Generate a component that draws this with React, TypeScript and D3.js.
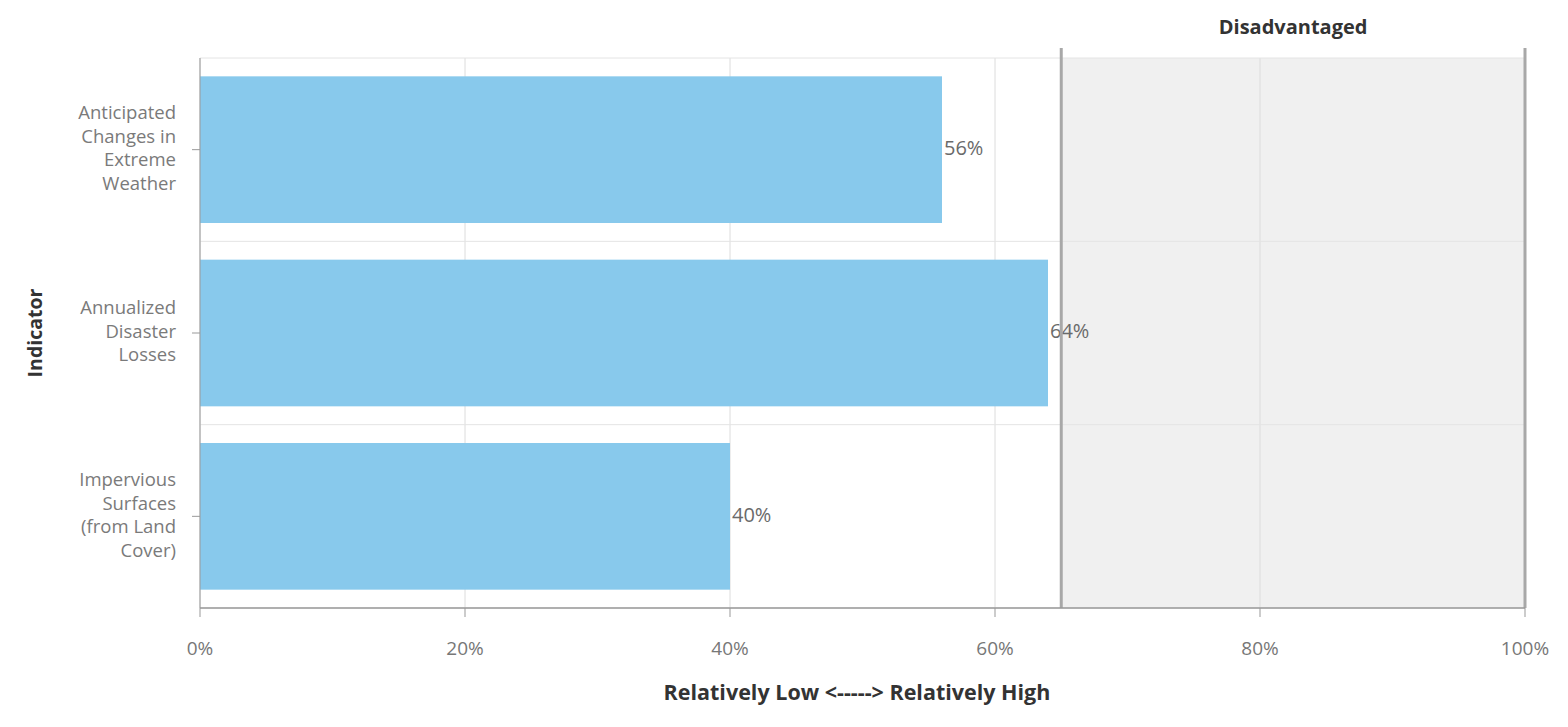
import * as d3 from "d3";

const categories = [
  ["Anticipated", "Changes in", "Extreme", "Weather"],
  ["Annualized", "Disaster", "Losses"],
  ["Impervious", "Surfaces", "(from Land", "Cover)"],
];
const values = [56, 64, 40];
const xTicks = [0, 20, 40, 60, 80, 100];
const threshold = 65;

const width = 1568;
const height = 727;
const left = 200;
const right = 1525;
const top = 58;
const bottom = 608;
const font = "'Open Sans', 'DejaVu Sans', sans-serif";

export default function App() {
  const x = d3.scaleLinear().domain([0, 100]).range([left, right]);
  const y = d3
    .scaleBand<number>()
    .domain(d3.range(values.length))
    .range([top, bottom])
    .paddingInner(0.2)
    .paddingOuter(0.1);
  const step = y.step();
  const bandEdges = d3.range(values.length + 1).map((i) => top + i * step);

  return (
    <svg width={width} height={height} style={{ position: "absolute", left: 0, top: 0 }}>
      <rect width={width} height={height} fill="#fff" />
      {/* disadvantaged zone */}
      <rect x={x(threshold)} y={top} width={x(100) - x(threshold)} height={bottom - top} fill="#f0f0f0" />
      {/* grid */}
      {xTicks.map((t) => (
        <line key={"g" + t} x1={x(t)} x2={x(t)} y1={top} y2={bottom} stroke="#dcdcdc" strokeWidth={1} />
      ))}
      {bandEdges.map((e, i) => (
        <line key={"h" + i} x1={left} x2={right} y1={e} y2={e} stroke="#e4e4e4" strokeWidth={1} />
      ))}
      {/* bars */}
      {values.map((v, i) => (
        <rect key={"b" + i} x={x(0)} y={y(i)} width={x(v) - x(0)} height={y.bandwidth()} fill="#88c9ec" />
      ))}
      {values.map((v, i) => (
        <text
          key={"l" + i}
          x={x(v) + 2}
          y={(y(i) as number) + y.bandwidth() / 2}
          dominantBaseline="middle"
          fontFamily={font}
          fontSize={20}
          fill="#6a6a6a"
        >
          {v + "%"}
        </text>
      ))}
      {/* threshold lines */}
      {[threshold, 100].map((t) => (
        <line key={"t" + t} x1={x(t)} x2={x(t)} y1={48} y2={bottom} stroke="#a8a8a8" strokeWidth={3} />
      ))}
      <text
        x={(x(threshold) + x(100)) / 2}
        y={34}
        textAnchor="middle"
        fontFamily={font}
        fontWeight="bold"
        fontSize={20}
        fill="#333"
      >
        Disadvantaged
      </text>
      {/* axes */}
      <line x1={left} x2={left} y1={top} y2={bottom} stroke="#999" />
      <line x1={left} x2={right} y1={bottom} y2={bottom} stroke="#999" strokeWidth={1.5} />
      {xTicks.map((t) => (
        <g key={"x" + t}>
          <line x1={x(t)} x2={x(t)} y1={bottom} y2={bottom + 9} stroke="#999" />
          <text x={x(t)} y={655} textAnchor="middle" fontFamily={font} fontSize={19} fill="#777">
            {t + "%"}
          </text>
        </g>
      ))}
      {categories.map((lines, i) => {
        const cy = (y(i) as number) + y.bandwidth() / 2;
        const lh = 23.5;
        const start = cy - ((lines.length - 1) * lh) / 2;
        return (
          <g key={"c" + i}>
            <line x1={left - 8} x2={left} y1={cy} y2={cy} stroke="#999" />
            {lines.map((s, j) => (
              <text
                key={j}
                x={176}
                y={start + j * lh}
                textAnchor="end"
                dominantBaseline="middle"
                fontFamily={font}
                fontSize={18.5}
                fill="#7a7a7a"
              >
                {s}
              </text>
            ))}
          </g>
        );
      })}
      <text
        transform={`translate(42,${(top + bottom) / 2}) rotate(-90)`}
        textAnchor="middle"
        fontFamily={font}
        fontWeight="bold"
        fontSize={19.5}
        fill="#333"
      >
        Indicator
      </text>
      <text x={857} y={700} textAnchor="middle" fontFamily={font} fontWeight="bold" fontSize={21.5} fill="#333">
        {"Relatively Low <-----> Relatively High"}
      </text>
    </svg>
  );
}
